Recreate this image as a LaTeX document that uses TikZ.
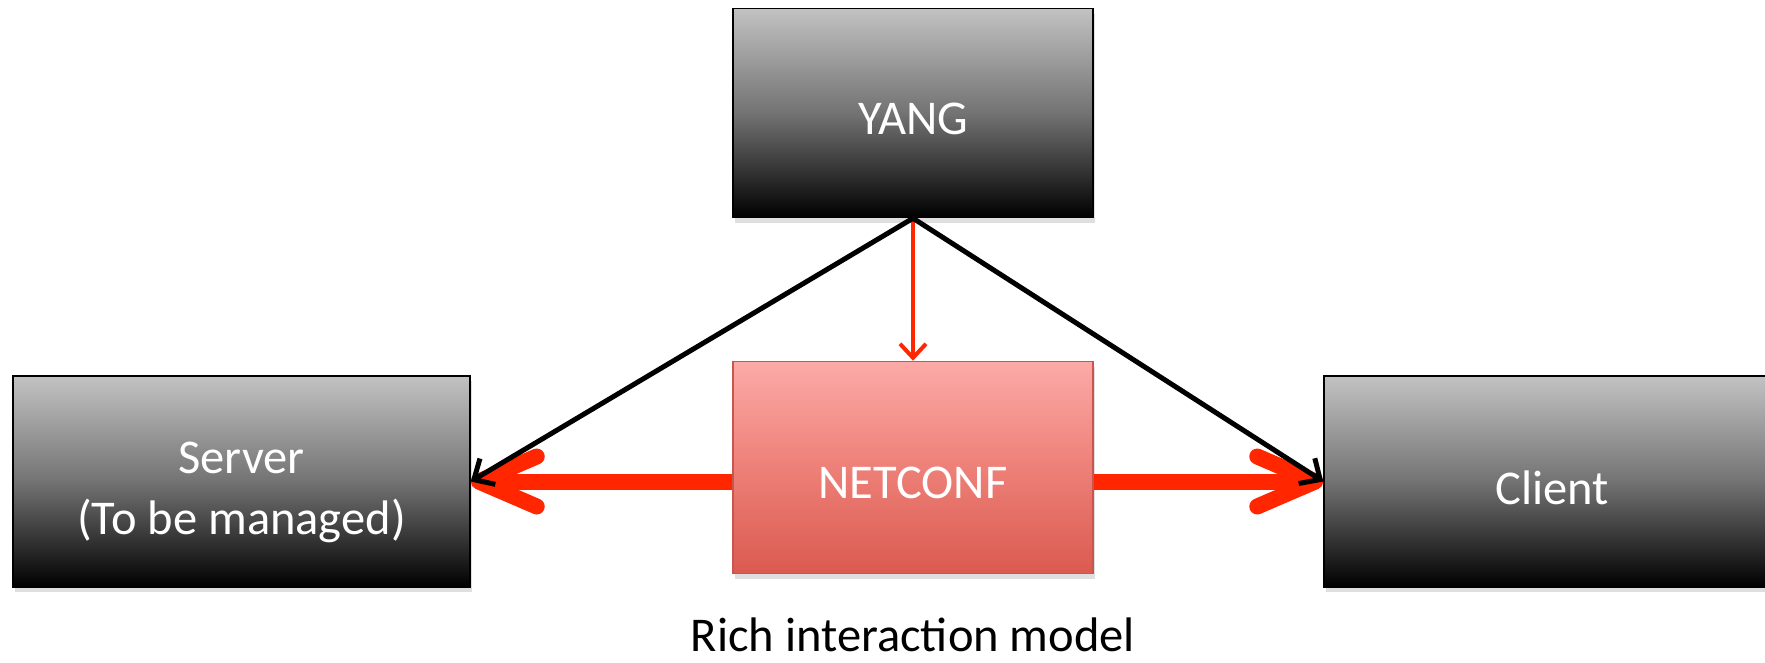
\documentclass[tikz,border=0pt]{standalone}
\usepackage{fontspec}
\setmainfont{Carlito}
\usetikzlibrary{arrows.meta,shadows}
\definecolor{arrred}{RGB}{255,38,0}
\definecolor{boxtop}{RGB}{194,194,194}
\definecolor{boxmid}{RGB}{115,115,115}
\definecolor{nctop}{RGB}{252,170,167}
\definecolor{ncmid}{RGB}{237,128,120}
\definecolor{ncbot}{RGB}{219,90,80}
\definecolor{ncborder}{RGB}{200,85,78}
\tikzset{
  darkbox/.style={draw=black, line width=1.5pt, rectangle,
    top color=boxtop, bottom color=black, middle color=boxmid,
    drop shadow={shadow xshift=2pt, shadow yshift=-5pt, opacity=0.25},
    inner sep=0pt},
  ncbox/.style={draw=ncborder, line width=1.5pt, rectangle,
    top color=nctop, bottom color=ncbot, middle color=ncmid,
    drop shadow={shadow xshift=2pt, shadow yshift=-5pt, opacity=0.25},
    inner sep=0pt},
  boxtext/.style={text=white, font=\fontsize{48.5}{61}\selectfont, align=center, inner sep=0pt},
  blackarrow/.style={draw=black, line width=5pt,
    -{Straight Barb[length=16pt, width=30pt]}},
  thinred/.style={draw=arrred, line width=4pt,
    -{Straight Barb[length=14pt, width=26pt]}},
  thickred/.style={draw=arrred, line width=16pt,
    -{Straight Barb[length=58pt, width=50pt, round]}},
  caption/.style={font=\fontsize{48.5}{61}\selectfont, text=black, inner sep=0pt}
}
\begin{document}
\begin{tikzpicture}[x=1pt, y=-1pt]
\useasboundingbox (0,0) rectangle (1765,662);
\node[darkbox, minimum width=360pt, minimum height=209pt,
  label={[boxtext, yshift=-6pt]center:YANG}] (yang) at (913,113) {};
\node[darkbox, minimum width=457pt, minimum height=211pt,
  label={[boxtext, yshift=-11pt]center:Server\\(To be managed)}] (server) at (241.5,481.5) {};
\node[ncbox, minimum width=360pt, minimum height=212pt,
  label={[boxtext, yshift=-15pt]center:NETCONF}] (netconf) at (913,467.5) {};
\node[darkbox, minimum width=457pt, minimum height=211pt,
  label={[boxtext, yshift=-6pt]center:Client}] (client) at (1552.5,481.5) {};
\node[caption, anchor=base] (cap) at (913,651) {Rich interaction model};
\draw[thinred] (yang.south) -- (netconf.north);
\draw[thickred] (netconf.west |- server.east) -- (server.east);
\draw[thickred] (netconf.east |- client.west) -- (client.west);
\draw[blackarrow] (yang.south) -- (server.east);
\draw[blackarrow] (yang.south) -- (client.west);
\end{tikzpicture}
\end{document}
